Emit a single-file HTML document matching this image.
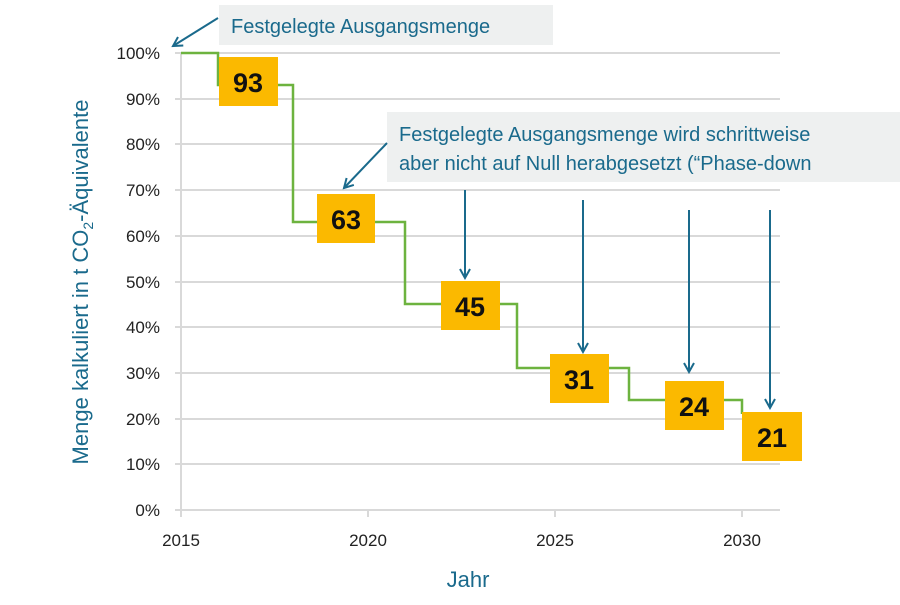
<!DOCTYPE html>
<html><head><meta charset="utf-8"><style>
body{margin:0;background:#fff;width:900px;height:600px;overflow:hidden;font-family:"Liberation Sans",sans-serif}
</style></head><body>
<svg width="900" height="600" xmlns="http://www.w3.org/2000/svg" font-family="Liberation Sans, sans-serif">
<defs><marker id="a" markerWidth="12" markerHeight="12" refX="10" refY="6" orient="auto" markerUnits="userSpaceOnUse"><path d="M1,1 L10,6 L1,11" fill="none" stroke="#1a6a8c" stroke-width="2"/></marker></defs>
<g stroke="#d9d9d9" stroke-width="2">
<line x1="175" y1="53" x2="780" y2="53"/><line x1="175" y1="99" x2="780" y2="99"/><line x1="175" y1="144" x2="780" y2="144"/><line x1="175" y1="190" x2="780" y2="190"/><line x1="175" y1="236" x2="780" y2="236"/><line x1="175" y1="282" x2="780" y2="282"/><line x1="175" y1="327" x2="780" y2="327"/><line x1="175" y1="373" x2="780" y2="373"/><line x1="175" y1="419" x2="780" y2="419"/><line x1="175" y1="464" x2="780" y2="464"/><line x1="175" y1="510" x2="780" y2="510"/>
<line x1="181" y1="53" x2="181" y2="517"/><line x1="368" y1="510" x2="368" y2="517"/><line x1="555" y1="510" x2="555" y2="517"/><line x1="742" y1="510" x2="742" y2="517"/>
</g>
<g font-size="17" fill="#222" text-anchor="end">
<text x="160" y="59">100%</text><text x="160" y="105">90%</text><text x="160" y="150">80%</text><text x="160" y="196">70%</text><text x="160" y="242">60%</text><text x="160" y="288">50%</text><text x="160" y="333">40%</text><text x="160" y="379">30%</text><text x="160" y="425">20%</text><text x="160" y="470">10%</text><text x="160" y="516">0%</text>
</g>
<g font-size="17" fill="#222" text-anchor="middle"><text x="181" y="546">2015</text><text x="368" y="546">2020</text><text x="555" y="546">2025</text><text x="742" y="546">2030</text></g>
<text x="468" y="587" font-size="22" fill="#1a6a8c" text-anchor="middle">Jahr</text>
<text transform="translate(88,282) rotate(-90)" font-size="22" fill="#1a6a8c" text-anchor="middle">Menge kalkuliert in t CO<tspan font-size="14" dy="5">2</tspan><tspan dy="-5">-Äquivalente</tspan></text>
<polyline fill="none" stroke="#6db33f" stroke-width="2.5" points="181,53 218,53 218,85 293,85 293,222 405,222 405,304 517,304 517,368 629,368 629,400 742,400 742,414"/>
<rect x="219" y="5" width="334" height="40" fill="#eef0f0"/>
<text x="231" y="33" font-size="20" fill="#1a6a8c">Festgelegte Ausgangsmenge</text>
<rect x="387" y="112" width="513" height="70" fill="#eef0f0"/>
<text x="399" y="141" font-size="20" fill="#1a6a8c">Festgelegte Ausgangsmenge wird schrittweise</text>
<text x="399" y="170" font-size="20" fill="#1a6a8c">aber nicht auf Null herabgesetzt (“Phase-down</text>
<g stroke="#1a6a8c" stroke-width="2" marker-end="url(#a)">
<line x1="218" y1="18" x2="173" y2="46"/><line x1="387" y1="143" x2="344" y2="188"/>
<line x1="465" y1="190" x2="465" y2="278"/><line x1="583" y1="200" x2="583" y2="352"/><line x1="689" y1="210" x2="689" y2="372"/><line x1="770" y1="210" x2="770" y2="408"/>
</g>
<g fill="#fbb900">
<rect x="219" y="57" width="59" height="49"/><rect x="317" y="194" width="58" height="49"/><rect x="441" y="281" width="59" height="49"/><rect x="550" y="354" width="59" height="49"/><rect x="665" y="381" width="59" height="49"/><rect x="742" y="412" width="60" height="49"/>
</g>
<g font-size="27" font-weight="bold" fill="#111" text-anchor="middle">
<text x="248" y="92">93</text><text x="346" y="229">63</text><text x="470" y="316">45</text><text x="579" y="389">31</text><text x="694" y="416">24</text><text x="772" y="447">21</text>
</g>
</svg>
</body></html>
